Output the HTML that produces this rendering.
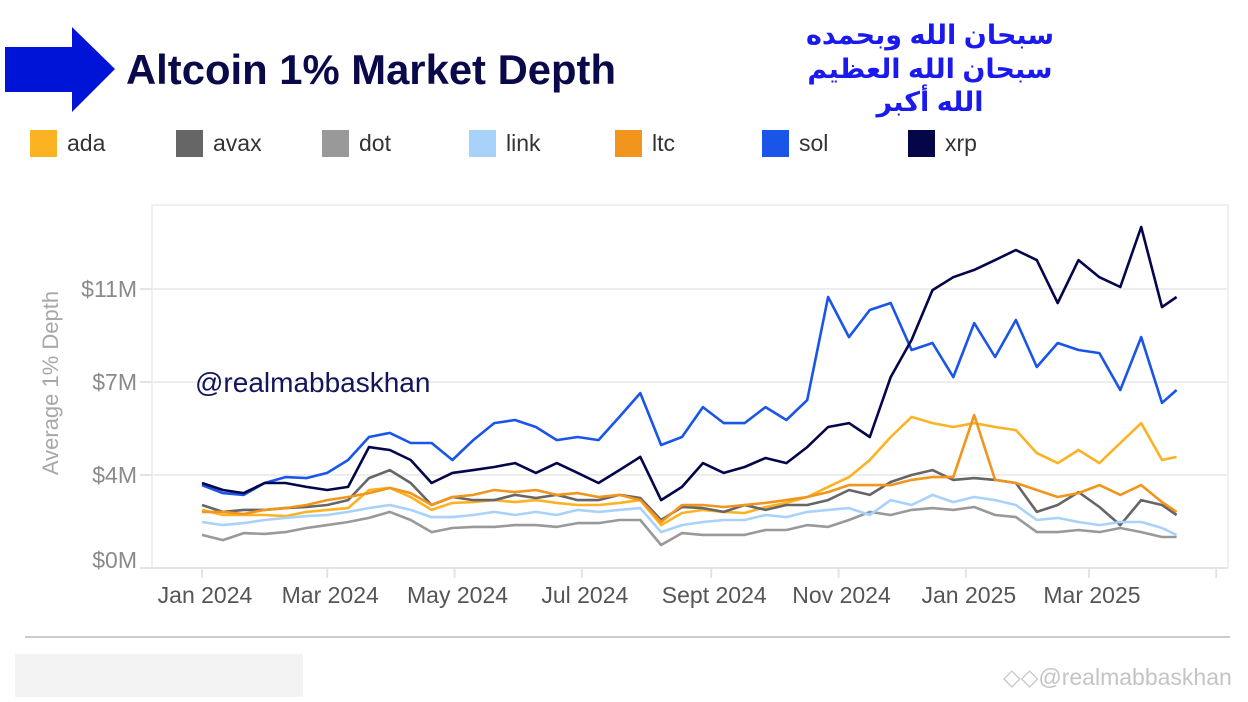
<!DOCTYPE html>
<html><head><meta charset="utf-8">
<style>
html,body{margin:0;padding:0;background:#fff;}
body{width:1248px;height:697px;overflow:hidden;position:relative;font-family:"Liberation Sans",sans-serif;}
</style></head>
<body>
<svg id="chart" width="1248" height="697" viewBox="0 0 1248 697" xmlns="http://www.w3.org/2000/svg">
  <polygon points="5,47 72,47 72,27 115,69 72,112 72,92 5,92" fill="#0014d8"/>
  <text x="126" y="84" font-family="Liberation Sans, sans-serif" font-weight="bold" font-size="42" fill="#0a0a4a" textLength="490" lengthAdjust="spacingAndGlyphs">Altcoin 1% Market Depth</text>
  <g font-family="Liberation Sans, 'DejaVu Sans', sans-serif" font-weight="bold" font-size="27" fill="#1a1aee" text-anchor="middle">
    <text x="930" y="44" direction="rtl">سبحان الله وبحمده</text>
    <text x="930" y="78" direction="rtl">سبحان الله العظيم</text>
    <text x="930" y="111" direction="rtl">الله أكبر</text>
  </g>
  <g id="legend"></g>
  <rect x="152" y="205" width="1076" height="363" fill="none" stroke="#ececec" stroke-width="1.5"/>
  <g id="grid"></g>
  <g id="axes"></g>
  <text x="195" y="392" font-family="Liberation Sans, sans-serif" font-size="28" fill="#14145a">@realmabbaskhan</text>
  <g id="series"></g>
  <text transform="translate(58,383) rotate(-90)" text-anchor="middle" font-size="22" fill="#a8a8a8">Average 1% Depth</text>
  <line x1="25" y1="637" x2="1230" y2="637" stroke="#bbb" stroke-width="1.5"/>
  <rect x="15" y="654" width="288" height="43" fill="#f3f3f3"/>
  <text x="1003" y="685" font-size="23" fill="#c4c4c4">◇◇@realmabbaskhan</text>
</svg>
<script>
const days=[0,10,20,30,40,50,60,70,80,90,100,110,120,130,140,150,160,170,180,190,200,210,220,230,240,250,260,270,280,290,300,310,320,330,340,350,360,370,380,390,400,410,420,430,440,450,460,467];
const coins=["ada","avax","dot","link","ltc","sol","xrp"];
const colors=["#fbb323","#666666","#999999","#a9d2fb","#f1951c","#1a55ea","#05054a"];
const ada=[2.25,2.05,2.05,2.05,2.01,2.17,2.25,2.32,3.02,3.10,2.75,2.25,2.52,2.55,2.63,2.55,2.63,2.52,2.44,2.44,2.52,2.63,1.66,2.13,2.25,2.17,2.13,2.36,2.52,2.75,3.14,3.52,4.18,5.07,5.85,5.61,5.46,5.61,5.46,5.34,4.45,4.06,4.57,4.06,4.84,5.61,4.18,4.30];
const avax=[2.44,2.17,2.25,2.25,2.32,2.36,2.44,2.63,3.48,3.79,3.29,2.44,2.75,2.63,2.63,2.83,2.71,2.83,2.63,2.63,2.83,2.71,1.86,2.36,2.32,2.17,2.44,2.25,2.44,2.44,2.63,3.02,2.83,3.33,3.60,3.79,3.41,3.48,3.41,3.29,2.17,2.44,2.94,2.36,1.66,2.63,2.44,2.05];
const dot=[1.28,1.08,1.35,1.32,1.39,1.55,1.66,1.78,1.94,2.17,1.86,1.39,1.55,1.59,1.59,1.66,1.66,1.59,1.74,1.74,1.86,1.86,0.89,1.35,1.28,1.28,1.28,1.47,1.47,1.66,1.59,1.86,2.17,2.05,2.25,2.32,2.25,2.36,2.05,1.97,1.39,1.39,1.47,1.39,1.55,1.39,1.20,1.20];
const link=[1.78,1.66,1.74,1.86,1.94,2.01,2.05,2.17,2.32,2.44,2.25,1.97,1.97,2.05,2.17,2.05,2.17,2.05,2.25,2.17,2.25,2.32,1.39,1.66,1.78,1.86,1.86,2.05,1.97,2.17,2.25,2.32,2.05,2.63,2.44,2.83,2.55,2.75,2.63,2.44,1.86,1.94,1.78,1.66,1.78,1.78,1.55,1.28];
const ltc=[2.17,2.17,2.09,2.25,2.32,2.44,2.63,2.75,2.90,3.10,2.90,2.44,2.75,2.83,3.02,2.94,3.02,2.83,2.90,2.75,2.83,2.63,1.78,2.44,2.44,2.36,2.44,2.52,2.63,2.75,2.94,3.21,3.21,3.21,3.41,3.52,3.52,5.92,3.41,3.29,3.02,2.75,2.90,3.21,2.83,3.21,2.55,2.17];
const sol=[3.21,2.90,2.83,3.29,3.52,3.48,3.68,4.18,5.07,5.23,4.84,4.84,4.18,4.95,5.61,5.73,5.46,4.95,5.07,4.95,5.85,6.77,4.76,5.07,6.23,5.61,5.61,6.23,5.73,6.50,10.49,8.94,9.99,10.26,8.44,8.71,7.39,9.48,8.17,9.60,7.78,8.71,8.44,8.32,6.89,8.94,6.39,6.89];
const xrp=[3.29,3.02,2.90,3.29,3.29,3.14,3.02,3.14,4.68,4.57,4.18,3.29,3.68,3.79,3.91,4.06,3.68,4.06,3.68,3.29,3.79,4.30,2.63,3.14,4.06,3.68,3.91,4.26,4.06,4.68,5.46,5.61,5.07,7.39,8.83,10.76,11.26,11.54,11.92,12.31,11.92,10.26,11.92,11.26,10.88,13.20,10.10,10.49];
const yTicks=[0,3.6,7.2,10.8];
const yTickLabels=["$0M","$4M","$7M","$11M"];
const xTickDays=[0,60,121,182,244,305,366,425];
const xTickLabels=["Jan 2024","Mar 2024","May 2024","Jul 2024","Sept 2024","Nov 2024","Jan 2025","Mar 2025"];

const NS="http://www.w3.org/2000/svg";
const X0=202, PXD=2.087, Y0=568, PXM=25.83;
function xs(d){return X0+d*PXD;}
function ys(v){return Y0-v*PXM;}
function mk(tag,attrs,parent){const e=document.createElementNS(NS,tag);for(const k in attrs)e.setAttribute(k,attrs[k]);parent.appendChild(e);return e;}

const grid=document.getElementById('grid'), axes=document.getElementById('axes');
yTicks.forEach((t,i)=>{
  const y=ys(t);
  if(i>0){const g=mk('line',{x1:152,x2:1228,y1:y,y2:y,stroke:'#ededed','stroke-width':2},grid);
    
    }
  const tk=mk('line',{x1:140,x2:152,y1:y,y2:y,stroke:'#e4e4e4','stroke-width':2},axes);
  
  
  const lb=mk('text',{x:137,y:(i===0?y-8:y)+8,'text-anchor':'end','font-size':23,fill:'#8a8a8a'},axes);
  lb.textContent=yTickLabels[i];
  
  
});
const xl=mk('line',{x1:152,x2:1228,y1:568,y2:568,stroke:'#e4e4e4','stroke-width':2},axes);


xTickDays.forEach((d,i)=>{
  const x=xs(d);
  const tk=mk('line',{x1:x,x2:x,y1:568,y2:578,stroke:'#e4e4e4','stroke-width':2},axes);
  
  
  const lb=mk('text',{x:x+3,y:603,'text-anchor':'middle','font-size':23,fill:'#555'},axes);
  lb.textContent=xTickLabels[i];
  
  
});
[xs(486)].forEach(x=>{const tk=mk('line',{x1:x,x2:x,y1:568,y2:578,stroke:'#e4e4e4','stroke-width':2},axes);
  
  });

const seriesData=[ada,avax,dot,link,ltc,sol,xrp];
const sg=document.getElementById('series');
seriesData.forEach((arr,i)=>{
  const pts=arr.map((v,j)=>xs(days[j]).toFixed(1)+','+ys(v).toFixed(1)).join(' ');
  const pl=mk('polyline',{points:pts,fill:'none',stroke:colors[i],'stroke-width':2.6,'stroke-linejoin':'round'},sg);
  
  
});

const lg=document.getElementById('legend');
const lx=[30,176,322,469,615,762,908];
coins.forEach((c,i)=>{
  const r=mk('rect',{x:lx[i],y:130,width:27,height:27,fill:colors[i]},lg);
  
  
  const t=mk('text',{x:lx[i]+37,y:151,'font-size':23,fill:'#333'},lg);
  t.textContent=c;
  
  
});
</script>
</body></html>
